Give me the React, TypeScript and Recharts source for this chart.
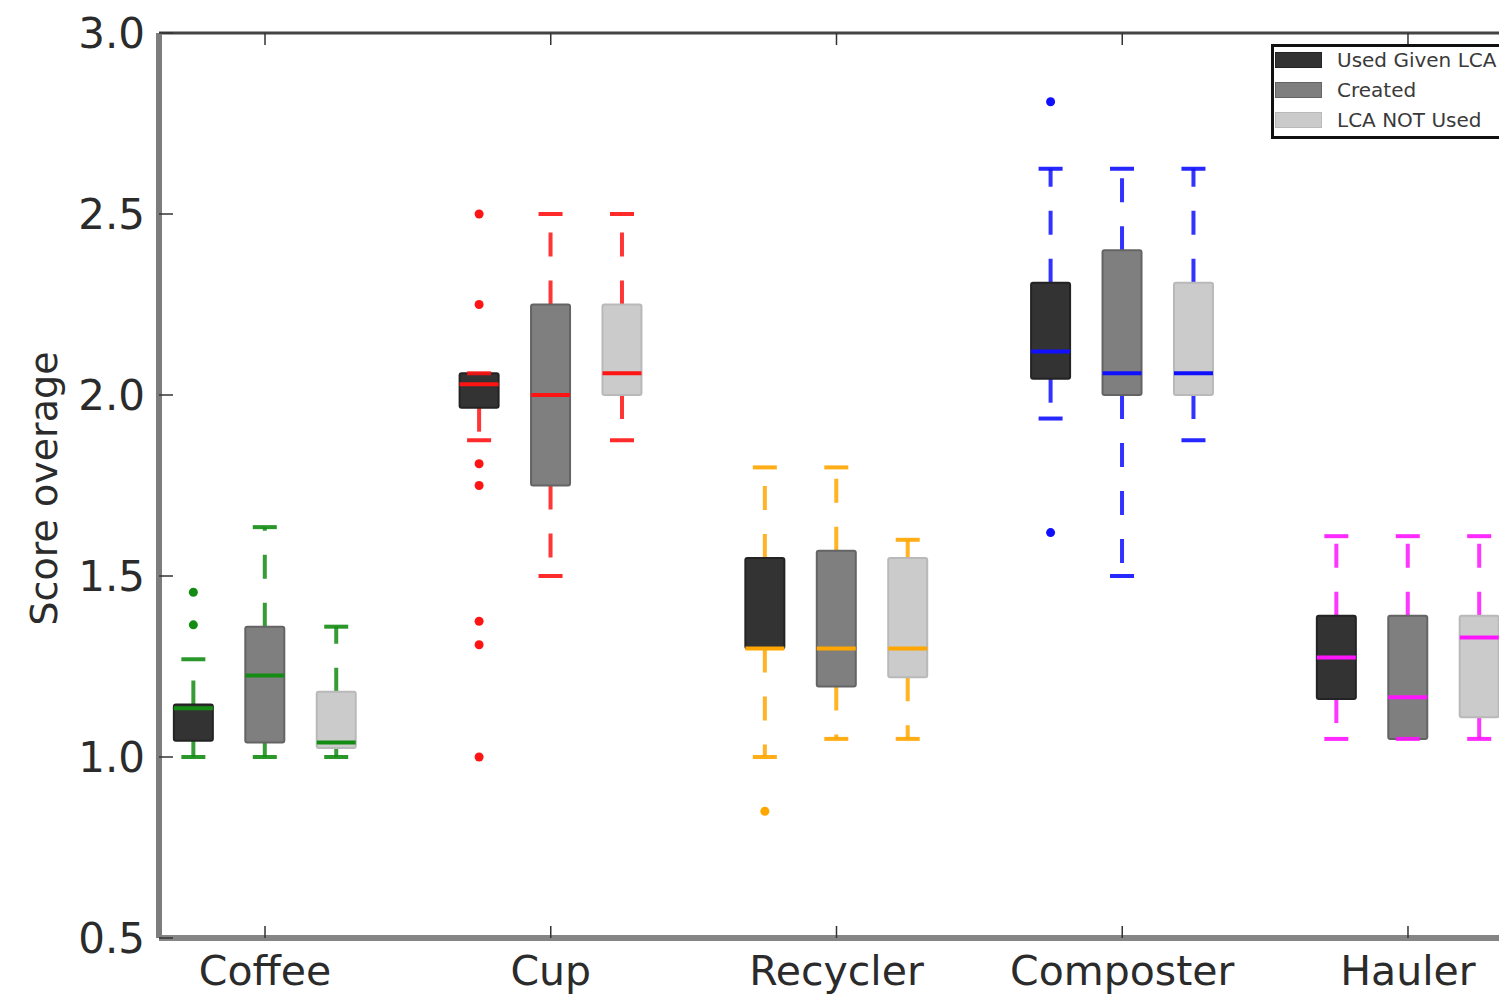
import { ComposedChart, Bar, XAxis, YAxis, Legend } from "recharts";

const CATEGORIES = ["Coffee", "Cup", "Recycler", "Composter", "Hauler"];
const GROUPS = ["Used Given LCA", "Created", "LCA NOT Used"];
const CATEGORY_COLORS = ["#148c14", "#ff1414", "#ffa600", "#1010ff", "#ff14ff"];
const GROUP_FILLS = ["#333333", "#7f7f7f", "#cbcbcb"];
const GROUP_EDGES = ["#232323", "#646464", "#b9b9b9"];
const GROUP_OFFSETS = [-0.25, 0, 0.25];
const X_TICKS = [1, 2, 3, 4, 5];
const Y_TICKS = [0.5, 1.0, 1.5, 2.0, 2.5, 3.0];

// [low whisker, Q1, median, Q3, high whisker] per group
const COFFEE = [
  [1.0, 1.045, 1.135, 1.145, 1.27],
  [1.0, 1.04, 1.225, 1.36, 1.635],
  [1.0, 1.025, 1.04, 1.18, 1.36],
];
const CUP = [
  [1.875, 1.965, 2.03, 2.06, 2.06],
  [1.5, 1.75, 2.0, 2.25, 2.5],
  [1.875, 2.0, 2.06, 2.25, 2.5],
];
const RECYCLER = [
  [1.0, 1.3, 1.3, 1.55, 1.8],
  [1.05, 1.195, 1.3, 1.57, 1.8],
  [1.05, 1.22, 1.3, 1.55, 1.6],
];
const COMPOSTER = [
  [1.935, 2.045, 2.12, 2.31, 2.625],
  [1.5, 2.0, 2.06, 2.4, 2.625],
  [1.875, 2.0, 2.06, 2.31, 2.625],
];
const HAULER = [
  [1.05, 1.16, 1.275, 1.39, 1.61],
  [1.05, 1.05, 1.165, 1.39, 1.61],
  [1.05, 1.11, 1.33, 1.39, 1.61],
];

// outliers (fliers) per group
const COFFEE_FLIERS = [[1.365, 1.455], [], []];
const CUP_FLIERS = [[2.5, 2.25, 1.81, 1.75, 1.375, 1.31, 1.0], [], []];
const RECYCLER_FLIERS = [[0.85], [], []];
const COMPOSTER_FLIERS = [[2.81, 1.62], [], []];
const HAULER_FLIERS = [[], [], []];

const STATS = [COFFEE, CUP, RECYCLER, COMPOSTER, HAULER];
const FLIERS = [COFFEE_FLIERS, CUP_FLIERS, RECYCLER_FLIERS, COMPOSTER_FLIERS, HAULER_FLIERS];

const data = STATS.flatMap((cat, ci) =>
  cat.map((s, gi) => ({
    x: ci + 1 + GROUP_OFFSETS[gi],
    ci,
    gi,
    stats: s,
    fliers: FLIERS[ci][gi],
    range: [s[0], s[4]],
  }))
);

const X_DOMAIN = [0.629, 5.343];
const Y_DOMAIN = [0.5, 3];
const FONT = "DejaVu Sans, sans-serif";
const TEXT = "#2b2b2b";

function BoxShape(props: any) {
  const { x, y, width, height, payload } = props;
  const [lo, q1, med, q3, hi] = payload.stats;
  const py = (v: number) => y + ((hi - v) / (hi - lo)) * height;
  const cx = x + width / 2;
  const color = CATEGORY_COLORS[payload.ci];
  const capHalf = 12;
  return (
    <g>
      <line x1={cx} x2={cx} y1={py(q3)} y2={py(hi)} stroke={color} strokeWidth={4} strokeDasharray="24 24" opacity={0.85} />
      <line x1={cx} x2={cx} y1={py(q1)} y2={py(lo)} stroke={color} strokeWidth={4} strokeDasharray="24 24" opacity={0.85} />
      <rect
        x={x} y={py(q3)} width={width} height={py(q1) - py(q3)}
        fill={GROUP_FILLS[payload.gi]} stroke={GROUP_EDGES[payload.gi]} strokeWidth={2} rx={2}
      />
      <line x1={cx - capHalf} x2={cx + capHalf} y1={py(hi)} y2={py(hi)} stroke={color} strokeWidth={4} opacity={0.9} />
      <line x1={cx - capHalf} x2={cx + capHalf} y1={py(lo)} y2={py(lo)} stroke={color} strokeWidth={4} opacity={0.9} />
      <line x1={x} x2={x + width} y1={py(med)} y2={py(med)} stroke={color} strokeWidth={4} />
      {payload.fliers.map((v: number, i: number) => (
        <circle key={i} cx={cx} cy={py(v)} r={4.5} fill={color} />
      ))}
    </g>
  );
}

function LeftTick({ x, y, payload }: any) {
  return (
    <g>
      <line x1={x} x2={x + 14} y1={y} y2={y} stroke="#333" strokeWidth={1.5} />
      <text x={x - 14} y={y} textAnchor="end" dominantBaseline="central" fontSize={42} fontFamily={FONT} fill={TEXT}>
        {payload.value.toFixed(1)}
      </text>
    </g>
  );
}

function RightTick({ x, y }: any) {
  return <line x1={x} x2={x - 12} y1={y} y2={y} stroke="#333" strokeWidth={1.5} />;
}

function BottomTick({ x, y, payload }: any) {
  return (
    <g>
      <line x1={x} x2={x} y1={y} y2={y - 12} stroke="#333" strokeWidth={1.5} />
      <text x={x} y={y + 47} textAnchor="middle" fontSize={41} fontFamily={FONT} fill={TEXT}>
        {CATEGORIES[payload.value - 1]}
      </text>
    </g>
  );
}

function TopTick({ x, y }: any) {
  return <line x1={x} x2={x} y1={y} y2={y + 12} stroke="#333" strokeWidth={1.5} />;
}

function YLabel({ viewBox }: any) {
  const cx = viewBox.x + 44;
  const cy = viewBox.y + viewBox.height / 2 + 3;
  return (
    <text
      x={cx} y={cy} transform={`rotate(-90 ${cx} ${cy})`} textAnchor="middle" dominantBaseline="central"
      fontSize={38} fontFamily={FONT} fill={TEXT}
    >
      Score overage
    </text>
  );
}

function LegendBox() {
  return (
    <div style={{ border: "3px solid #111", background: "#fff", width: 240, height: 89, fontFamily: FONT, boxSizing: "content-box" }}>
      {GROUPS.map((g, i) => (
        <div key={g} style={{ display: "flex", alignItems: "center", height: 30, marginTop: i === 0 ? -2 : 0 }}>
          <span style={{ display: "inline-block", width: 45, height: 14, marginLeft: 1, background: GROUP_FILLS[i], border: `1px solid ${GROUP_EDGES[i]}` }} />
          <span style={{ marginLeft: 15, fontSize: 20, color: "#3a3a3a", whiteSpace: "nowrap" }}>{g}</span>
        </div>
      ))}
    </div>
  );
}

export default function App() {
  return (
    <div style={{ position: "absolute", left: 0, top: 0, width: 1499, height: 994, overflow: "hidden", background: "#fff" }}>
      <ComposedChart width={1520} height={994} data={data} margin={{ top: 32, right: 14, bottom: 0, left: 0 }}>
        <XAxis
          dataKey="x" type="number" domain={X_DOMAIN} ticks={X_TICKS} interval={0} allowDataOverflow
          height={56} tickSize={0} tickMargin={0} tickLine={false}
          axisLine={{ stroke: "#858585", strokeWidth: 6 }} tick={BottomTick}
        />
        <XAxis
          xAxisId="top" dataKey="x" orientation="top" type="number" domain={X_DOMAIN} ticks={X_TICKS} interval={0}
          allowDataOverflow height={1} tickSize={0} tickMargin={0} tickLine={false}
          axisLine={{ stroke: "#444", strokeWidth: 3 }} tick={TopTick}
        />
        <YAxis
          type="number" domain={Y_DOMAIN} ticks={Y_TICKS} interval={0} allowDataOverflow width={159}
          tickSize={0} tickMargin={0} tickLine={false}
          axisLine={{ stroke: "#7d7d7d", strokeWidth: 6 }} tick={LeftTick} label={YLabel}
        />
        <YAxis
          yAxisId="right" dataKey="range" orientation="right" type="number" domain={Y_DOMAIN} ticks={Y_TICKS} interval={0}
          allowDataOverflow width={0} tickSize={0} tickMargin={0} tickLine={false}
          axisLine={{ stroke: "#444", strokeWidth: 3 }} tick={RightTick}
        />
        <Bar dataKey="range" barSize={39} shape={BoxShape} isAnimationActive={false} />
        <Legend
          layout="horizontal" verticalAlign="middle" align="center" content={<LegendBox />}
          wrapperStyle={{ left: 1271, top: 44, width: "auto", height: "auto" }}
        />
      </ComposedChart>
    </div>
  );
}
